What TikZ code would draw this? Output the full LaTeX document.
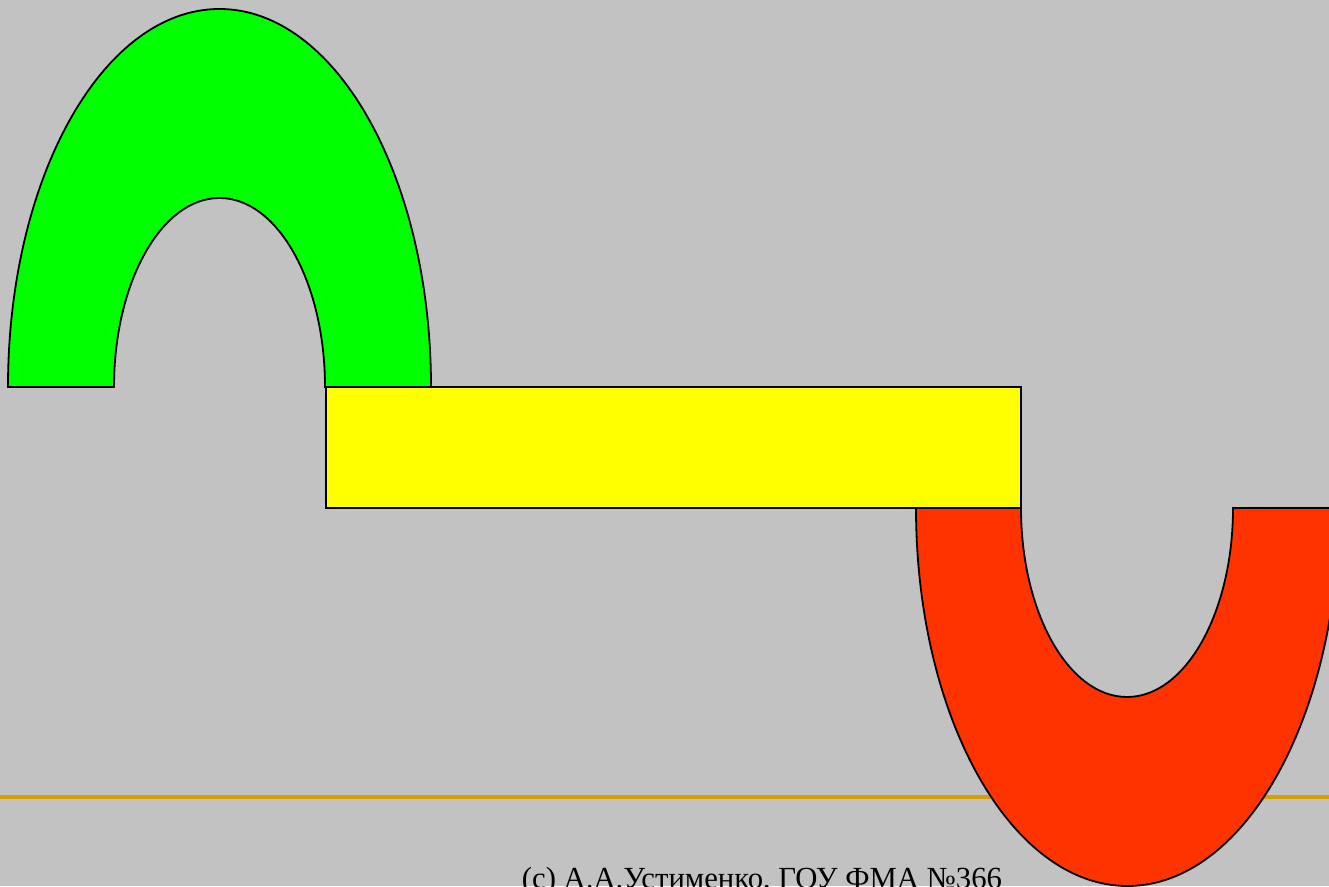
\documentclass[tikz,border=0pt]{standalone}
\usepackage{fontspec}
\newfontfamily\capfont{Liberation Serif}
\definecolor{bggray}{HTML}{C2C2C2}
\definecolor{archgreen}{HTML}{00FF00}
\definecolor{baryellow}{HTML}{FFFF00}
\definecolor{archred}{HTML}{FF3300}
\definecolor{rulegold}{HTML}{D4A000}
\tikzset{
  shapeout/.style={draw=black, line width=1.8pt, line join=miter},
  rule/.style={draw=rulegold, line width=4pt},
  caption/.style={font=\capfont\fontsize{30.7}{32}\selectfont, text=black, inner sep=0pt, anchor=base}
}
\begin{document}
\begin{tikzpicture}[x=1pt,y=1pt]
\useasboundingbox (0,0) rectangle (1329,886);
\fill[bggray] (0,0) rectangle (1329,886);
% gold rule
\coordinate (ruleL) at (0,89);
\coordinate (ruleR) at (1329,89);
\draw[rule] (ruleL) -- (ruleR);
% green arch
\path[shapeout, fill=archgreen] (8,499) arc[start angle=180, end angle=0, x radius=211.5, y radius=378]
  -- (325,499) arc[start angle=0, end angle=180, x radius=105.5, y radius=189] -- cycle;
% yellow bar
\path[shapeout, fill=baryellow] (326,378) rectangle (1021,499);
% red U
\path[shapeout, fill=archred] (916,378) arc[start angle=180, end angle=360, x radius=211.5, y radius=378]
  -- (1233,378) arc[start angle=0, end angle=-180, x radius=106, y radius=189] -- cycle;
% caption
\node[caption] (cap) at (762,-2) {(c) А.А.Устименко, ГОУ ФМА №366};
\end{tikzpicture}
\end{document}
